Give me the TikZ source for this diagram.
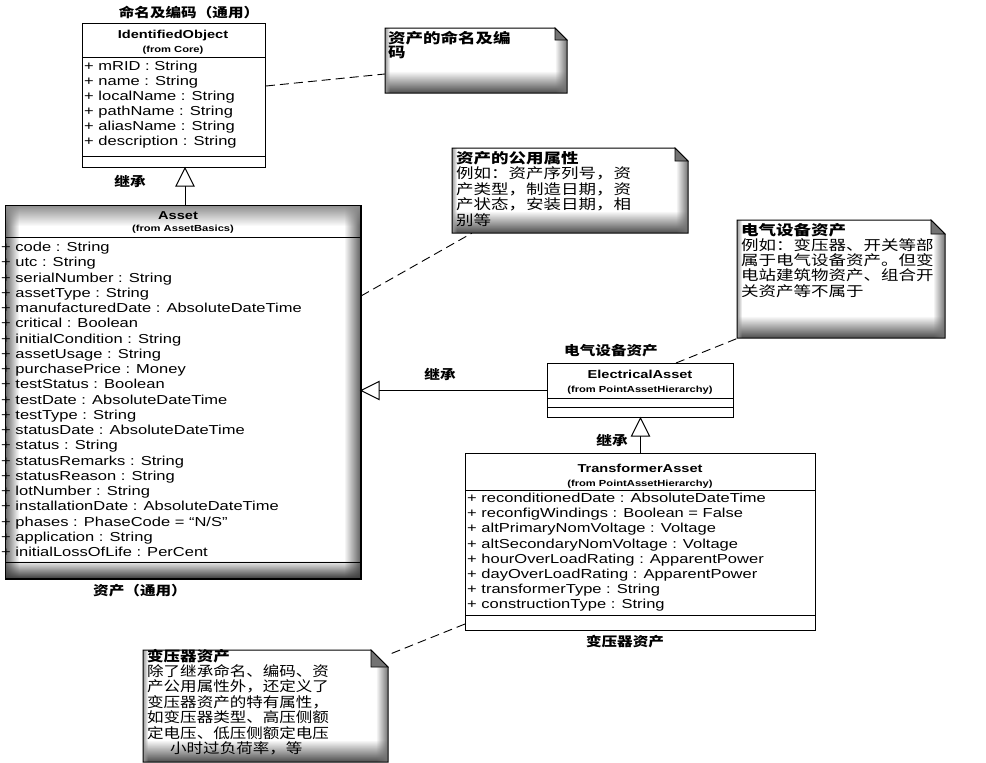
\documentclass[tikz,border=0pt]{standalone}
\usepackage{fontspec}
\setmainfont{Liberation Sans}
\newfontfamily\umlfont{Liberation Sans}[FakeStretch=1.27]
\newfontfamily\cjkfont{Noto Sans CJK SC}[FakeStretch=1.25]
\newfontfamily\cjknarrowfont{Noto Sans CJK SC}[FakeStretch=1.18]
\newfontfamily\cjklabelfont{Noto Sans CJK SC}[FakeStretch=1.2]
\usetikzlibrary{calc,fit,fadings}

% UML note with folded corner: name, x1, y1, x2, y2, fold size
\newcommand\umlnote[6]{%
  \coordinate (#1-nw) at (#2,#3);
  \coordinate (#1-se) at (#4,#5);
  \node[fit=(#1-nw)(#1-se), inner sep=0pt] (#1) {};
  \fill[white] (#2,#3) -- ({#4-#6},#3) -- (#4,{#3+#6}) -- (#4,#5) -- (#2,#5) -- cycle;
  \begin{scope}
    \clip (#2,#3) -- ({#4-#6},#3) -- (#4,{#3+#6}) -- (#4,#5) -- (#2,#5) -- cycle;
    \fill[black!70, path fading=north] (#2,{#5-22}) rectangle (#4,#5);
    \fill[black!55, path fading=west] ({#4-12},#3) rectangle (#4,#5);
    \fill[black!40, path fading=east] (#2,#3) rectangle ({#2+5},#5);
  \end{scope}
  \draw[notebd] (#2,#3) -- ({#4-#6},#3) -- (#4,{#3+#6}) -- (#4,#5) -- (#2,#5) -- cycle;
  \filldraw[notefold] ({#4-#6},#3) -- ({#4-#6},{#3+#6}) -- (#4,{#3+#6}) -- cycle;
}

\begin{document}
\begin{tikzpicture}[x=1pt,y=-1pt,
  classbox/.style={draw, line width=1pt, fill=white, inner sep=0pt, anchor=north west},
  sepline/.style={line width=0.8pt},
  attr/.style={font=\umlfont\fontsize{13}{15}\selectfont, anchor=base west, inner sep=0pt},
  cname/.style={font=\umlfont\bfseries\fontsize{11.5}{13}\selectfont, anchor=base, inner sep=0pt},
  cfrom/.style={font=\umlfont\bfseries\fontsize{8.8}{10}\selectfont, anchor=base, inner sep=0pt},
  lbl/.style={font=\cjklabelfont\bfseries\fontsize{13}{15}\selectfont, anchor=base, inner sep=0pt},
  notetxt/.style={font=\cjkfont\fontsize{14}{15}\selectfont, anchor=base west, inner sep=0pt},
  notenarrow/.style={font=\cjknarrowfont\fontsize{14}{15}\selectfont, anchor=base west, inner sep=0pt},
  notebd/.style={line width=1pt},
  notefold/.style={line width=0.8pt, fill=black!55},
  noteline/.style={dashed, dash pattern=on 9pt off 5pt, line width=0.9pt},
  inherit/.style={line width=1pt},
  hollow/.style={draw, line width=1pt, fill=white},
]
\useasboundingbox (0,0) rectangle (986,763);
\fill[white] (0,0) rectangle (986,763);

% ---------------- IdentifiedObject ----------------
\node[classbox, minimum width=183pt, minimum height=144pt] (io) at (82,23) {};
\draw[sepline] (82,57) -- (265,57);
\draw[sepline] (82,156) -- (265,156);
\node[cname] (io-name) at (173,38) {IdentifiedObject};
\node[cfrom] (io-from) at (173,52) {(from Core)};
\foreach \t [count=\i from 0] in {{+ mRID : String},{+ name : String},{+ localName : String},
    {+ pathName : String},{+ aliasName : String},{+ description : String}}
  \node[attr] (io-a\i) at (84,{70.7+15*\i}) {\t};
\node[lbl] (lbl-io) at (189,17.7) {命名及编码（通用）};

% ---------------- Asset ----------------
\node[classbox, minimum width=355pt, minimum height=373pt] (asset) at (5,205) {};
\begin{scope}
  \clip (5,205) rectangle (360,578);
  \fill[black!60, path fading=east] (5,205) rectangle (19,578);
  \fill[black!60, path fading=west] (344,205) rectangle (360,578);
  \fill[black!75, path fading=north] (5,560) rectangle (360,578);
  \fill[black!45, path fading=south] (5,205) rectangle (360,226);
\end{scope}
\draw[line width=1pt] (asset.north west) rectangle (asset.south east);
\draw[sepline] (5,237) -- (360,237);
\draw[sepline] (5,562) -- (360,562);
\node[cname] (asset-name) at (178,219) {Asset};
\node[cfrom] (asset-from) at (183,231) {(from AssetBasics)};
\foreach \t [count=\i from 0] in {{code : String},{utc : String},{serialNumber : String},
    {assetType : String},{manufacturedDate : AbsoluteDateTime},{critical : Boolean},
    {initialCondition : String},{assetUsage : String},{purchasePrice : Money},
    {testStatus : Boolean},{testDate : AbsoluteDateTime},{testType : String},
    {statusDate : AbsoluteDateTime},{status : String},{statusRemarks : String},
    {statusReason : String},{lotNumber : String},{installationDate : AbsoluteDateTime},
    {phases : PhaseCode = “N/S”},{application : String},{initialLossOfLife : PerCent}}
  \node[attr] (asset-a\i) at (1,{251.7+15.25*\i}) {+ \t};
\node[lbl] (lbl-asset) at (140,595.7) {资产（通用）};

% ---------------- ElectricalAsset ----------------
\node[classbox, minimum width=186pt, minimum height=54pt] (ea) at (547,363) {};
\draw[sepline] (547,398) -- (733,398);
\draw[sepline] (547,407) -- (733,407);
\node[cname] (ea-name) at (640,378) {ElectricalAsset};
\node[cfrom] (ea-from) at (640,392) {(from PointAssetHierarchy)};
\node[lbl] (lbl-ea) at (611,355) {电气设备资产};

% ---------------- TransformerAsset ----------------
\node[classbox, minimum width=350pt, minimum height=177pt] (ta) at (465,453) {};
\draw[sepline] (465,490) -- (815,490);
\draw[sepline] (465,615) -- (815,615);
\node[cname] (ta-name) at (640,472) {TransformerAsset};
\node[cfrom] (ta-from) at (640,486) {(from PointAssetHierarchy)};
\foreach \t [count=\i from 0] in {{+ reconditionedDate : AbsoluteDateTime},
    {+ reconfigWindings : Boolean = False},{+ altPrimaryNomVoltage : Voltage},
    {+ altSecondaryNomVoltage : Voltage},{+ hourOverLoadRating : ApparentPower},
    {+ dayOverLoadRating : ApparentPower},{+ transformerType : String},
    {+ constructionType : String}}
  \node[attr] (ta-a\i) at (467,{502.7+15.1*\i}) {\t};
\node[lbl] (lbl-ta) at (625,646.7) {变压器资产};

% ---------------- Notes ----------------
\umlnote{n1}{385}{28}{567}{93}{12}
\node[notetxt, font=\cjkfont\bfseries\fontsize{14}{15}\selectfont] (n1-l0) at (388,43) {资产的命名及编};
\node[notetxt, font=\cjkfont\bfseries\fontsize{14}{15}\selectfont] (n1-l1) at (388,57) {码};

\umlnote{n2}{452}{148}{688}{233}{13}
\node[notetxt, font=\cjkfont\bfseries\fontsize{14}{15}\selectfont] (n2-l0) at (456,163) {资产的公用属性};
\foreach \t [count=\i from 1] in {{例如：资产序列号，资},{产类型，制造日期，资},{产状态，安装日期，相},{别等}}
  \node[notetxt] (n2-l\i) at (456,{163+15.5*\i}) {\t};

\umlnote{n3}{737}{220}{945}{338}{14}
\node[notetxt, font=\cjkfont\bfseries\fontsize{14}{15}\selectfont] (n3-l0) at (741,235) {电气设备资产};
\foreach \t [count=\i from 1] in {{例如：变压器、开关等部},{属于电气设备资产。但变},{电站建筑物资产、组合开},{关资产等不属于}}
  \node[notetxt] (n3-l\i) at (741,{235+15.25*\i}) {\t};

\umlnote{n4}{143}{650}{388}{762}{17}
\node[notenarrow, font=\cjknarrowfont\bfseries\fontsize{14}{15}\selectfont] (n4-l0) at (147,661) {变压器资产};
\foreach \t [count=\i from 1] in {{除了继承命名、编码、资},{产公用属性外，还定义了},{变压器资产的特有属性，},{如变压器类型、高压侧额},{定电压、低压侧额定电压}}
  \node[notenarrow] (n4-l\i) at (147,{661+15.4*\i}) {\t};
\node[notenarrow] (n4-l6) at (170,753.4) {小时过负荷率，等};

% ---------------- Note anchors ----------------
\draw[noteline] ($(io.north east)+(0,63)$) -- (n1.west |- 0,74);
\draw[noteline] ($(asset.north east)+(0,91)$) -- ($(n2.south west)+(20,0)$);
\draw[noteline] ($(ea.north west)+(129,0)$) -- ($(n3.south west)+(1,0)$);
\draw[noteline] ($(ta.north west)+(0,171)$) -- ($(n4.north east)+(0,5)$);

% ---------------- Generalisations ----------------
\coordinate (g1) at ($(io.south west)+(103,0)$);
\draw[inherit] ($(g1)+(0,18)$) -- (g1 |- asset.north);
\draw[hollow] (g1) -- ++(-9,18) -- ++(18,0) -- cycle;
\node[lbl] (inh1) at (130,186.7) {继承};

\coordinate (g2) at (asset.east |- ea.west);
\draw[inherit] ($(g2)+(18,0)$) -- (ea.west);
\draw[hollow] (g2) -- ++(18,-9) -- ++(0,18) -- cycle;
\node[lbl] (inh2) at (440,379.7) {继承};

\coordinate (g3) at (ea.south);
\draw[inherit] ($(g3)+(0,18)$) -- (g3 |- ta.north);
\draw[hollow] (g3) -- ++(-9,18) -- ++(18,0) -- cycle;
\node[lbl] (inh3) at (612,445.7) {继承};
\end{tikzpicture}
\end{document}
